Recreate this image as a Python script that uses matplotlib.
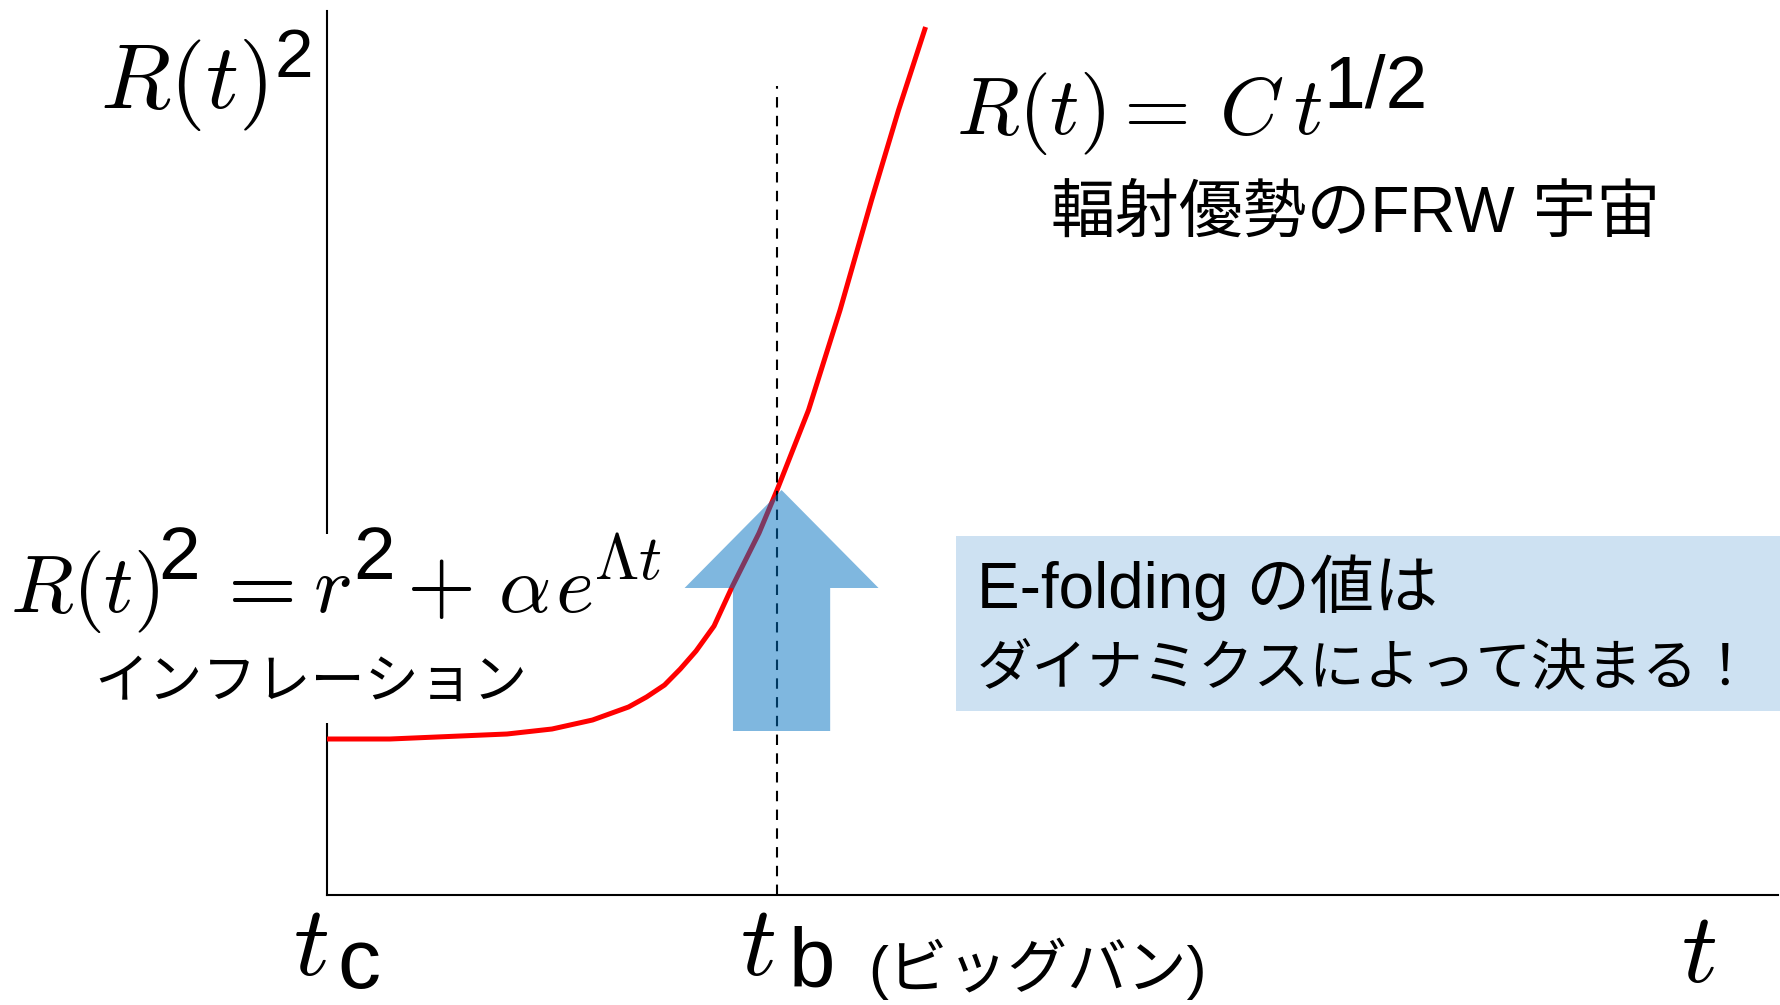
import numpy as np
import matplotlib
matplotlib.use("Agg")
import matplotlib.pyplot as plt
from matplotlib.patches import Rectangle, FancyArrow

plt.rcParams['font.family'] = ['Liberation Sans', 'Noto Sans CJK JP']
plt.rcParams['mathtext.fontset'] = 'cm'

W, H = 1781, 1005

# scale factor R(t)^2 vs time (t_c = 0, t_b = 1)
t = [0.0, 0.14, 0.40, 0.50, 0.59, 0.67, 0.71, 0.75, 0.785, 0.82, 0.86, 0.90,
     0.96, 1.00, 1.07, 1.14, 1.21, 1.27, 1.33]
r2 = [1.56, 1.56, 1.61, 1.66, 1.75, 1.88, 1.98, 2.10, 2.26, 2.44, 2.69, 3.08,
      3.62, 4.05, 4.85, 5.85, 6.95, 7.85, 8.68]

t_c = 0.0
t_b = 1.0
t_max = 3.224
r2_max = 8.84
r2_at_tb = 4.05
dash_top = 8.09

# e-folding arrow: from shaft bottom up to the curve at t_b
arrow_x = 1.01
arrow_bottom = 1.64


def px(x, y):
    # pixel position -> figure fraction
    return x / W, 1 - y / H


def put(x, y, s, size, **kw):
    kw.setdefault('ha', 'left')
    kw.setdefault('va', 'baseline')
    return fig.text(*px(x, y), s, size=size, **kw)


fig = plt.figure(figsize=(W / 100, H / 100), dpi=100)
ax = fig.add_axes([327 / W, 1 - 895 / H, 1451 / W, 884 / H])
ax.set_xlim(t_c, t_max)
ax.set_ylim(0, r2_max)
for s in ['top', 'right']:
    ax.spines[s].set_visible(False)
for s in ['left', 'bottom']:
    ax.spines[s].set_linewidth(1.5)
    ax.spines[s].set_color('black')
ax.set_xticks([])
ax.set_yticks([])

ax.plot(t, r2, color='#ff0000', lw=3.6, solid_joinstyle='round',
        solid_capstyle='butt', zorder=3)
ax.vlines(t_b, 0, dash_top, colors='black', lw=1.5,
          linestyles=(0, (5, 4)), zorder=3)

arr = FancyArrow(arrow_x, arrow_bottom, 0, r2_at_tb - arrow_bottom,
                 width=0.216, head_width=0.431, head_length=0.98,
                 length_includes_head=True, color='#0070C0', alpha=0.5,
                 lw=0, zorder=4)
ax.add_patch(arr)

# white gap in the y axis behind the inflation formula
gap = Rectangle(px(300, 723), 60 / W, (723 - 534) / H, transform=fig.transFigure,
                facecolor='white', edgecolor='none', zorder=5)
fig.patches.append(gap)

# highlighted note box
box = Rectangle(px(956, 711), (W - 956) / W, (711 - 536) / H,
                transform=fig.transFigure, facecolor='#CDE1F2',
                edgecolor='none', zorder=1)
fig.patches.append(box)

# y label  R(t)^2
put(100, 108, r'$R(t)$', 66)
put(275, 77, '2', 50)

# R(t) = C t^{1/2}
put(956, 134, r'$R(t)$', 59)
put(1108, 134, r'$=$', 62)
put(1219, 134, r'$C$', 59)
put(1293, 134, r'$t$', 59)
put(1323, 108, '1/2', 54)
put(1051, 232, '輻射優勢のFRW 宇宙', 46)

# R(t)^2 = r^2 + alpha e^{Lambda t}
put(10, 612, r'$R(t)$', 59, zorder=6)
put(158, 579, '2', 54, zorder=6)
put(212, 612, r'$=$', 64, zorder=6)
put(313, 612, r'$r$', 59, zorder=6)
put(353, 579, '2', 54, zorder=6)
put(406, 612, r'$+$', 64, zorder=6)
put(498, 612, r'$\alpha$', 59, zorder=6)
put(555, 612, r'$e$', 59, zorder=6)
put(594, 579, r'$\Lambda t$', 46, zorder=6)
put(94, 698, 'インフレーション', 39, zorder=6)

put(977, 608, 'E-folding の値は', 46, zorder=6)
put(977, 684, 'ダイナミクスによって決まる！', 40, zorder=6)

# time axis labels
put(293, 975, r'$t$', 72)
put(337, 988, 'c', 62)
put(740, 975, r'$t$', 72)
put(789, 987, 'b', 60)
put(868, 988, '(ビッグバン)', 43)
put(1681, 982, r'$t$', 72)

fig.savefig('out.png', dpi=100, facecolor='white')
